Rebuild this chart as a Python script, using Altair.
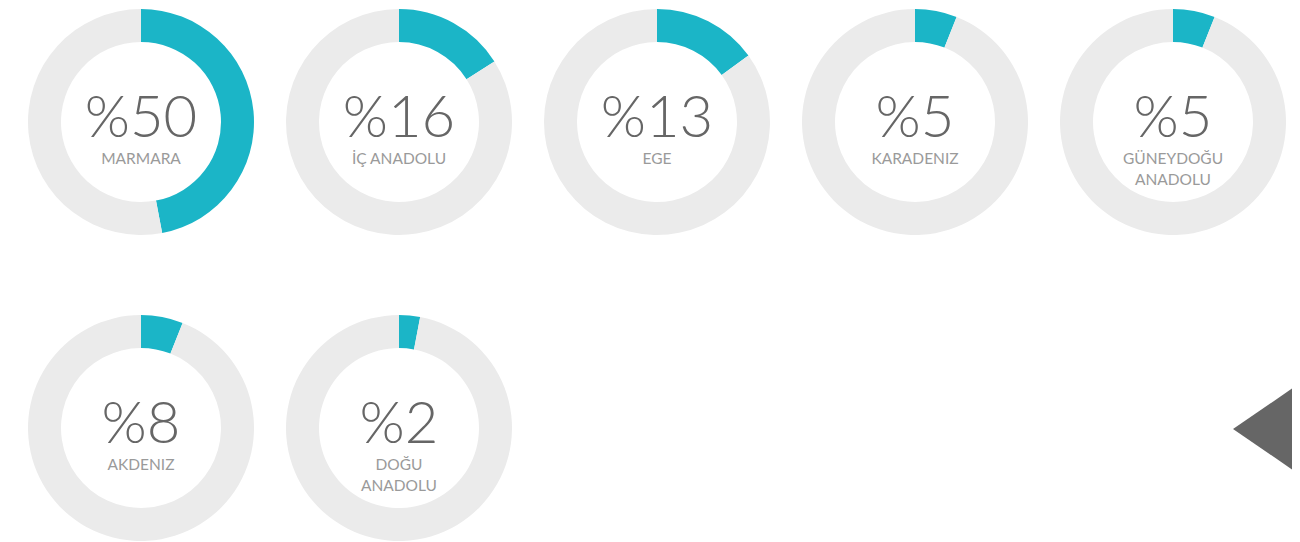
import altair as alt
import pandas as pd

# Data
regions = ["MARMARA", "İÇ ANADOLU", "EGE", "KARADENIZ", "GÜNEYDOĞU\nANADOLU", "AKDENIZ", "DOĞU\nANADOLU"]
percent_labels = [50, 16, 13, 5, 5, 8, 2]
arc_shares = [47, 16, 15, 6, 6, 6, 3]  # filled share of each ring as drawn

TEAL = "#1bb5c7"
GREY = "#ebebeb"
NUM_COLOR = "#666666"
LAB_COLOR = "#9a9a9a"
FONT = "Lato"
SIZE = 228
C = SIZE / 2


def donut(i):
    region = regions[i]
    share = arc_shares[i]
    df = pd.DataFrame({
        "part": ["fill", "rest"],
        "v": [share, 100 - share],
        "k": [0, 1],
    })
    arc = alt.Chart(df).mark_arc(radius=113, radius2=80, stroke=None).encode(
        theta=alt.Theta("v:Q", stack=True),
        order=alt.Order("k:O"),
        color=alt.Color("part:N", scale=alt.Scale(domain=["fill", "rest"], range=[TEAL, GREY]), legend=None),
    )
    tdf = pd.DataFrame({"num": [f"%{percent_labels[i]}"], "lab": [region]})
    num = alt.Chart(tdf).mark_text(
        font=FONT, fontWeight=300, fontSize=58, color=NUM_COLOR,
        align="center", baseline="alphabetic",
    ).encode(text="num:N", x=alt.value(C), y=alt.value(C + 15))
    lab = alt.Chart(tdf).mark_text(
        font=FONT, fontWeight=400, fontSize=15.5, color=LAB_COLOR,
        align="center", baseline="alphabetic", lineBreak="\n", lineHeight=21,
    ).encode(text="lab:N", x=alt.value(C), y=alt.value(C + 42))
    return alt.layer(arc, num, lab).properties(width=SIZE, height=SIZE)


# decorative navigation arrow
arrow_df = pd.DataFrame({"a": [1]})
ARROW_W = 749
arrow = alt.Chart(arrow_df).mark_point(
    shape="M-1,0L1,-1.37L1,1.37Z", size=6400, filled=True, color="#666666", opacity=1, clip=True,
    strokeWidth=0,
).encode(x=alt.value(730), y=alt.value(115)).properties(width=ARROW_W, height=SIZE)

row1 = alt.hconcat(*[donut(i) for i in range(5)], spacing=30)
row2 = alt.hconcat(donut(5), donut(6), arrow, spacing=30)

chart = alt.vconcat(row1, row2, spacing=78).properties(
    padding={"left": 19, "top": 0, "right": 0, "bottom": 0},
    background="white",
).configure_view(stroke=None).configure_concat(spacing=30)

chart.save("out.html", embed_options={"renderer": "svg", "actions": False})
